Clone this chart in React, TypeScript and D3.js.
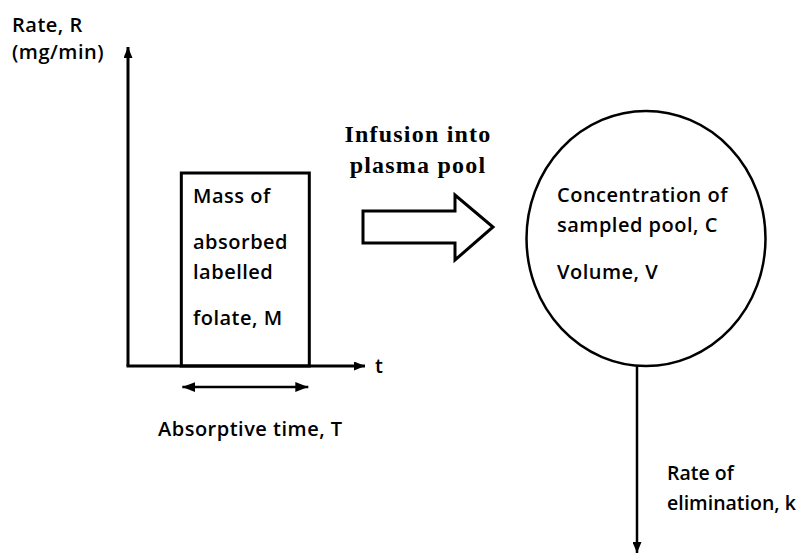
import React, { useEffect, useRef } from 'react';
import * as d3 from 'd3';

// rate-vs-time pulse (arbitrary units)
const timeDomain = [0, 10];
const rateDomain = [0, 10];
const pulseStart = 2.25;
const pulseEnd = 7.65;
const pulseRate = 6.05;

const rateLabel = ['Rate, R', '(mg/min)'];
const timeLabel = 't';
const pulseLabel = ['Mass of', 'absorbed', 'labelled', 'folate, M'];
const durationLabel = 'Absorptive time, T';
const infusionLabel = ['Infusion into', 'plasma pool'];
const poolLabel = ['Concentration of', 'sampled pool, C', 'Volume, V'];
const eliminationLabel = ['Rate of', 'elimination, k'];

const W = 810;
const H = 554;
const SANS = '"Open Sans", "DejaVu Sans", sans-serif';
const SERIF = '"Liberation Serif", "DejaVu Serif", serif';

export default function App() {
  const ref = useRef<SVGSVGElement>(null);

  useEffect(() => {
    if (!ref.current) return;
    const svg = d3.select(ref.current);
    svg.selectAll('*').remove();

    const x = d3.scaleLinear().domain(timeDomain).range([128, 365]);
    const y = d3.scaleLinear().domain(rateDomain).range([366, 47]);

    const defs = svg.append('defs');
    const marker = (id: string, w: number, h: number, orient: string) => {
      defs.append('marker')
        .attr('id', id)
        .attr('viewBox', `0 0 ${w} ${h}`)
        .attr('refX', w)
        .attr('refY', h / 2)
        .attr('markerWidth', w)
        .attr('markerHeight', h)
        .attr('markerUnits', 'userSpaceOnUse')
        .attr('orient', orient)
        .append('path')
        .attr('d', `M0,0L${w},${h / 2}L0,${h}Z`)
        .attr('fill', '#000');
    };
    marker('tip', 11, 9, 'auto');
    marker('tip2', 13, 10, 'auto-start-reverse');

    const g = svg.append('g');

    // axes
    g.append('path')
      .attr('d', `M${x(0)},${y(0)}V${y(10)}`)
      .attr('stroke', '#000').attr('stroke-width', 3).attr('fill', 'none')
      .attr('marker-end', 'url(#tip)');
    g.append('path')
      .attr('d', `M${x(0) - 1.5},${y(0)}H${x(10)}`)
      .attr('stroke', '#000').attr('stroke-width', 3).attr('fill', 'none')
      .attr('marker-end', 'url(#tip)');

    // pulse
    g.append('rect')
      .attr('x', x(pulseStart))
      .attr('y', y(pulseRate))
      .attr('width', x(pulseEnd) - x(pulseStart))
      .attr('height', y(0) - y(pulseRate))
      .attr('fill', 'none').attr('stroke', '#000').attr('stroke-width', 3);

    // duration double arrow
    g.append('path')
      .attr('d', `M${x(pulseStart) + 1},387H${x(pulseEnd) - 1}`)
      .attr('stroke', '#000').attr('stroke-width', 2.5)
      .attr('marker-start', 'url(#tip2)')
      .attr('marker-end', 'url(#tip2)');

    const text = (lines: string[], tx: number, ys: number[], font: string, size: number, weight: string | number, anchor = 'start', spacing = 0) => {
      lines.forEach((s, i) => {
        g.append('text')
          .attr('x', tx).attr('y', ys[i])
          .attr('font-family', font).attr('font-size', size)
          .attr('font-weight', weight)
          .attr('letter-spacing', spacing)
          .attr('text-anchor', anchor)
          .attr('fill', '#000')
          .text(s);
      });
    };

    const fs = 20;
    const ls = 0.5;
    text(rateLabel, 12, [32, 59], SANS, fs, 600, 'start', ls);
    text([timeLabel], 375, [373], SANS, fs, 600, 'start', ls);
    text(pulseLabel, 193, [203, 249, 279, 325], SANS, fs, 600, 'start', ls);
    text([durationLabel], 158, [436], SANS, fs, 600, 'start', ls);

    // block arrow
    const block = d3.line()([
      [363, 211], [455, 211], [455, 195], [493, 227], [455, 260], [455, 243], [363, 243],
    ]) + 'Z';
    g.append('path').attr('d', block)
      .attr('fill', '#fff').attr('stroke', '#000').attr('stroke-width', 3)
      .attr('stroke-linejoin', 'miter');
    text(infusionLabel, 418, [142, 173], SERIF, 24, 700, 'middle', 1.2);

    // pool
    g.append('ellipse')
      .attr('cx', 646).attr('cy', 238.5).attr('rx', 119.5).attr('ry', 127.5)
      .attr('fill', 'none').attr('stroke', '#000').attr('stroke-width', 2.5);
    text(poolLabel, 557, [202, 232, 279], SANS, fs, 600, 'start', ls);

    // elimination
    g.append('path')
      .attr('d', `M637,366V553`)
      .attr('stroke', '#000').attr('stroke-width', 2.5)
      .attr('marker-end', 'url(#tip)');
    text(eliminationLabel, 667, [480, 510], SANS, 19.5, 600, 'start', 0);
  }, []);

  return (
    <svg
      ref={ref}
      width={W}
      height={H}
      style={{ position: 'absolute', left: 0, top: 0, background: '#fff' }}
    />
  );
}
